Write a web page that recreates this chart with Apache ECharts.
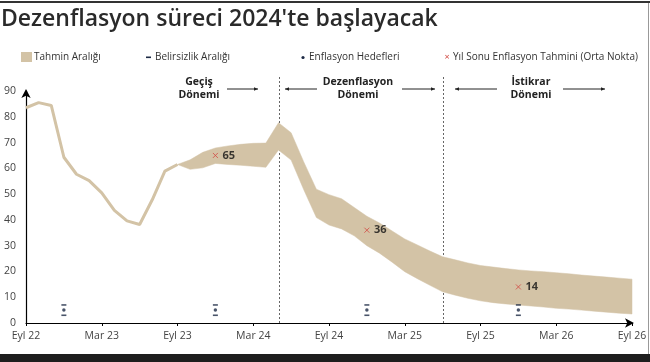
<!DOCTYPE html>
<html>
<head>
<meta charset="utf-8">
<script src="https://cdn.jsdelivr.net/npm/echarts@6/dist/echarts.min.js"></script>
<style>html,body{margin:0;padding:0;background:#fff;}#c{width:650px;height:362px;}</style>
</head>
<body>
<div id="c"></div>
<script>
// Month index 0 = Eyl 22 (Sep 2022), 48 = Eyl 26
const tickLabels = ['Eyl 22','Mar 23','Eyl 23','Mar 24','Eyl 24','Mar 25','Eyl 25','Mar 26','Eyl 26'];
const actualMonths = [0,1,2,3,4,5,6,7,8,9,10,11,12];
const actualValues = [83.5,85.5,84.4,64.3,57.7,55.2,50.5,43.7,39.6,38.2,47.8,58.9,61.5];
const bandMonths = [12,13,14,15,16,17,18,19,20,21,22,23,24,25,26,27,28,29,30,31,32,33,34,35,36,37,38,39,40,41,42,43,44,45,46,47,48];
const bandUpper = [61.5,63.3,66.2,67.9,68.7,69.3,69.7,69.8,77.7,73.8,62.5,51.9,49.8,48.2,44.8,41.4,38.8,35.7,32.6,30.3,27.9,25.7,24.5,23.3,22.3,21.7,21.1,20.6,20.2,19.9,19.5,19.1,18.6,18.2,17.8,17.4,17.0];
const bandLower = [61.5,59.6,60.2,61.9,61.5,61.2,60.8,60.4,67.1,63.2,51.7,40.9,38.0,36.5,33.8,30.0,27.1,23.6,19.9,17.2,14.6,12.1,10.8,9.6,8.6,7.9,7.4,7.0,6.6,6.2,5.7,5.4,5.0,4.6,4.2,3.8,3.5];
const targetMonths = [3,15,27,39];
const targetValues = [5,5,5,5];
const uncertaintyLow = [3,3,3,3];
const uncertaintyHigh = [7,7,7,7];
const midMonths = [15,27,39];
const midValues = [65,36,14];
const periodBorders = [20,33];

const TAN = '#d3c3a6';
const NAVY = '#1d2a45';
const FONT = '"Open Sans", "Noto Sans", sans-serif';

const chart = echarts.init(document.getElementById('c'), null, {renderer:'canvas'});

const arrow = (x1, x2, y) => {
  const dir = x2 > x1 ? 1 : -1;
  return [
    {type:'line', shape:{x1:x1, y1:y, x2:x2, y2:y}, style:{stroke:'#222', lineWidth:1}},
    {type:'polygon', shape:{points:[[x2, y],[x2 - dir*4, y-1.8],[x2 - dir*4, y+1.8]]}, style:{fill:'#222'}}
  ];
};
const periodText = (cx, txt) => ({type:'text', x:cx, y:76, style:{text:txt, font:'bold 10.5px ' + FONT, fill:'#222', align:'center', lineHeight:13}});

const option = {
  animation:false,
  grid:{left:26, right:18, top:91, bottom:39},
  xAxis:{
    type:'value', min:0, max:48, interval:6,
    axisLine:{show:true, lineStyle:{color:'#000', width:1.2}, symbol:['none','arrow'], symbolSize:[7,9], symbolOffset:[0,2]},
    axisTick:{show:true, length:3, lineStyle:{color:'#000'}},
    axisLabel:{color:'#444', fontSize:10.5, fontFamily:FONT, margin:8, formatter:(v)=> tickLabels[Math.round(v/6)] || ''},
    splitLine:{show:false}
  },
  yAxis:{
    type:'value', min:0, max:90, interval:10,
    axisLine:{show:true, lineStyle:{color:'#000', width:1.2}, symbol:['none','arrow'], symbolSize:[7,9], symbolOffset:[0,2]},
    axisTick:{show:false},
    axisLabel:{color:'#444', fontSize:10.5, fontFamily:FONT, margin:10},
    splitLine:{show:false}
  },
  graphic:[
    {type:'rect', shape:{x:0, y:1, width:650, height:2}, style:{fill:'#333'}},
    {type:'rect', shape:{x:648, y:3, width:1, height:351}, style:{fill:'#999'}},
    {type:'rect', shape:{x:0, y:354, width:650, height:8}, style:{fill:'#1e1e1e'}},
    {type:'text', x:1, y:8, style:{text:"Dezenflasyon süreci 2024'te başlayacak", font:'600 23px ' + FONT, fill:'#2a2a2a'}},
    // legend
    {type:'rect', shape:{x:21, y:52, width:11, height:10}, style:{fill:TAN}},
    {type:'text', x:34, y:57, style:{text:'Tahmin Aralığı', font:'10px ' + FONT, fill:'#333', verticalAlign:'middle'}},
    {type:'rect', shape:{x:146, y:56.5, width:5, height:1.6}, style:{fill:NAVY}},
    {type:'text', x:155, y:57, style:{text:'Belirsizlik Aralığı', font:'10px ' + FONT, fill:'#333', verticalAlign:'middle'}},
    {type:'circle', shape:{cx:303, cy:57.5, r:1.6}, style:{fill:NAVY}},
    {type:'text', x:309, y:57, style:{text:'Enflasyon Hedefleri', font:'10px ' + FONT, fill:'#333', verticalAlign:'middle'}},
    {type:'text', x:447, y:57, style:{text:'×', font:'9px ' + FONT, fill:'#d24a43', align:'center', verticalAlign:'middle'}},
    {type:'text', x:453, y:57, style:{text:'Yıl Sonu Enflasyon Tahmini (Orta Nokta)', font:'10px ' + FONT, fill:'#333', verticalAlign:'middle'}},
    // period annotations
    periodText(199, 'Geçiş\nDönemi'),
    periodText(358, 'Dezenflasyon\nDönemi'),
    periodText(531, 'İstikrar\nDönemi'),
    ...arrow(227, 258, 89),
    ...arrow(317, 285, 89),
    ...arrow(402, 435, 89),
    ...arrow(497, 455, 89),
    ...arrow(563, 605, 89)
  ],
  series:[
    {
      name:'Gerçekleşme', type:'line', symbol:'none',
      data: actualMonths.map((m,i)=>[m, actualValues[i]]),
      lineStyle:{color:TAN, width:3}, z:3
    },
    {
      name:'Tahmin Aralığı', type:'custom',
      data: bandMonths.map((m,i)=>[m, bandLower[i], bandUpper[i]]),
      encode:{x:0, y:[1,2]},
      renderItem:(params, api)=>{
        if (params.dataIndex !== 0) return null;
        const up = bandMonths.map((m,i)=>api.coord([m, bandUpper[i]]));
        const lo = bandMonths.map((m,i)=>api.coord([m, bandLower[i]])).reverse();
        return {type:'polygon', shape:{points:up.concat(lo)}, style:{fill:TAN, stroke:TAN, lineWidth:0.5}};
      },
      z:2
    },
    {
      name:'Dönem sınırı', type:'custom',
      data: periodBorders.map(m=>[m, 0]),
      renderItem:(params, api)=>{
        const p0 = api.coord([api.value(0), 0]);
        const p1 = api.coord([api.value(0), 90]);
        const x = Math.round(p0[0]) + 0.5;
        return {type:'line', shape:{x1:x, y1:p0[1], x2:x, y2:p1[1]-14}, style:{stroke:'#666', lineWidth:1, lineDash:[2,2]}};
      },
      z:1
    },
    {
      name:'Belirsizlik Aralığı', type:'scatter', symbol:'rect', symbolSize:[5,1.6],
      data: targetMonths.map((m,i)=>[m, uncertaintyLow[i]]).concat(targetMonths.map((m,i)=>[m, uncertaintyHigh[i]])),
      itemStyle:{color:NAVY}, z:4
    },
    {
      name:'Enflasyon Hedefleri', type:'scatter', symbol:'circle', symbolSize:3.5,
      data: targetMonths.map((m,i)=>[m, targetValues[i]]),
      itemStyle:{color:NAVY}, z:4
    },
    {
      name:'Yıl Sonu Enflasyon Tahmini (Orta Nokta)', type:'scatter',
      symbol:'path://M0,0L10,10M10,0L0,10', symbolSize:5,
      data: midMonths.map((m,i)=>[m, midValues[i]]),
      itemStyle:{color:'rgba(0,0,0,0)', borderColor:'#d24a43', borderWidth:1},
      label:{show:true, position:'right', distance:4, formatter:(p)=>String(p.value[1]), fontWeight:'bold', fontSize:11, color:'#111', fontFamily:FONT},
      z:5
    }
  ]
};
chart.setOption(option);
</script>
</body>
</html>
